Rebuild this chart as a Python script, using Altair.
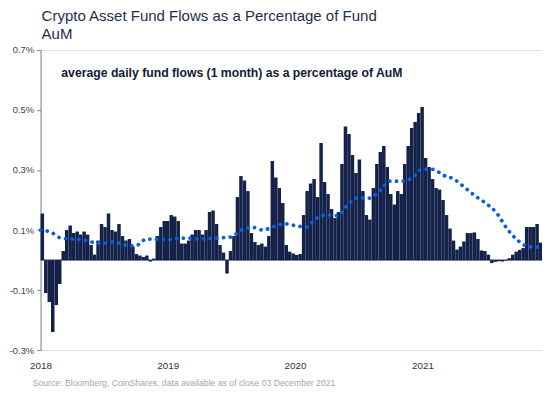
import altair as alt
import pandas as pd

# ---- text ----
title_lines = ["Crypto Asset Fund Flows as a Percentage of Fund", "AuM"]
annotation = "average daily fund flows (1 month) as a percentage of AuM"
source = "Source: Bloomberg, CoinShares, data available as of close 03 December 2021"

# ---- bar series: average daily fund flows (1 month) as % of AuM, every 10 days from 2018-01-01 ----
bar_start = "2018-01-01"
bar_step_days = 10
bar_values = [
    0.155, -0.11, -0.14, -0.24, -0.15, -0.08, 0.03, 0.10, 0.115, 0.09,
    0.095, 0.085, 0.095, 0.085, 0.05, 0.018, 0.065, 0.12, 0.11, 0.155,
    0.10, 0.095, 0.12, 0.08, 0.065, 0.07, 0.045, 0.02, 0.015, 0.01,
    0.015, -0.005, 0.005, 0.08, 0.11, 0.13, 0.13, 0.15, 0.145, 0.13,
    0.055, 0.055, 0.065, 0.085, 0.10, 0.10, 0.085, 0.10, 0.16, 0.165,
    0.12, 0.05, 0.025, -0.045, 0.03, 0.08, 0.21, 0.28, 0.265, 0.23,
    0.09, 0.06, 0.05, 0.055, 0.045, 0.08, 0.33, 0.275, 0.24, 0.19,
    0.05, 0.028, 0.022, 0.017, 0.02, 0.15, 0.23, 0.255, 0.27, 0.21,
    0.39, 0.26, 0.22, 0.17, 0.14, 0.16, 0.32, 0.445, 0.42, 0.35,
    0.29, 0.335, 0.23, 0.15, 0.135, 0.24, 0.32, 0.36, 0.38, 0.31,
    0.22, 0.185, 0.23, 0.22, 0.32, 0.38, 0.44, 0.46, 0.49, 0.51,
    0.34, 0.31, 0.27, 0.24, 0.235, 0.20, 0.15, 0.105, 0.065, 0.035,
    0.045, 0.062, 0.09, 0.09, 0.092, 0.07, 0.032, 0.03, 0.018, -0.01,
    -0.006, -0.004, -0.005, -0.002, 0.006, 0.018, 0.028, 0.034, 0.04, 0.11,
    0.11, 0.11, 0.12, 0.058,
]

# ---- trend (dotted) series, monthly from Jan 2018 ----
trend_start = "2018-01-01"
trend_values = [
    0.10, 0.092, 0.073, 0.07, 0.068, 0.059, 0.056, 0.06, 0.05, 0.048,
    0.07, 0.069, 0.068, 0.072, 0.073, 0.07, 0.071, 0.074, 0.077, 0.10,
    0.109, 0.10, 0.111, 0.121, 0.115, 0.11, 0.138, 0.15, 0.148, 0.185,
    0.208, 0.206, 0.232, 0.263, 0.263, 0.273, 0.303, 0.302, 0.283, 0.27,
    0.243, 0.214, 0.19, 0.158, 0.104, 0.066, 0.045, 0.043,
]

y_ticks = [-0.3, -0.1, 0.1, 0.3, 0.5, 0.7]

NAVY = "#14224a"
BLUE = "#0a5fe0"
FONT = "Liberation Sans"

starts = pd.date_range(bar_start, periods=len(bar_values), freq=f"{bar_step_days}D")
bars_df = pd.DataFrame({
    "start": starts.strftime("%Y-%m-%d"),
    "end": (starts + pd.Timedelta(days=bar_step_days)).strftime("%Y-%m-%d"),
    "value": bar_values,
})
trend_df = pd.DataFrame({
    "date": pd.date_range(trend_start, periods=len(trend_values), freq="MS").strftime("%Y-%m-%d"),
    "value": trend_values,
})

x_scale = alt.Scale(domain=[alt.DateTime(year=2018, month=1, date=1),
                            alt.DateTime(year=2021, month=12, date=10)])
y_scale = alt.Scale(domain=[-0.3, 0.7], nice=False, zero=False)

x_axis = alt.Axis(format="%Y", tickCount={"interval": "year", "step": 1}, title=None,
                  domain=False, ticks=False, grid=False, labelPadding=11,
                  labelFont=FONT, labelFontSize=10, labelColor="#333333",
                  labelFlush=False)
y_axis = alt.Axis(values=y_ticks, title=None, grid=False,
                  labelExpr="replace(format(datum.value, '.1f'), '\u2212', '-') + '%'",
                  domainColor="#7f8794", tickColor="#7f8794", tickSize=4,
                  labelPadding=3, labelFont=FONT, labelFontSize=9.5, labelColor="#444444")

bars = alt.Chart(bars_df).mark_rect(color=NAVY).encode(
    x=alt.X("start:T", scale=x_scale, axis=x_axis),
    x2="end:T",
    y=alt.Y("value:Q", scale=y_scale, axis=y_axis),
    y2=alt.datum(0),
)

zero_rule = alt.Chart(pd.DataFrame({"v": [0]})).mark_rule(color=NAVY, strokeWidth=1).encode(
    y=alt.Y("v:Q", scale=y_scale)
)

trend = alt.Chart(trend_df).mark_line(
    color=BLUE, strokeWidth=3.8, strokeDash=[0.1, 6.7], strokeCap="round", interpolate="monotone"
).encode(
    x=alt.X("date:T", scale=x_scale),
    y=alt.Y("value:Q", scale=y_scale),
)

def text_layer(txt, x, y, size, color, weight="normal"):
    return alt.Chart(pd.DataFrame({"t": [txt]})).mark_text(
        align="left", baseline="alphabetic", font=FONT, fontSize=size,
        color=color, fontWeight=weight
    ).encode(x=alt.value(x), y=alt.value(y), text="t:N")

title1 = text_layer(title_lines[0], 1, -29.5, 15.2, "#1f2d4e")
title2 = text_layer(title_lines[1], 1, -11, 15.2, "#1f2d4e")
annot = text_layer(annotation, 21, 27.5, 12.4, "#111a33", "bold")
src = text_layer(source, -8, 340, 8.8, "#a6a6a6")

chart = alt.layer(bars, zero_rule, trend, title1, title2, annot, src).properties(
    width=508, height=304,
    padding={"left": 33, "top": 40, "right": 0, "bottom": 46},
    autosize=alt.AutoSizeParams(type="none"),
).configure_view(stroke=None).configure(background="white")

chart.save("out.html", embed_options={"renderer": "svg", "actions": False})
